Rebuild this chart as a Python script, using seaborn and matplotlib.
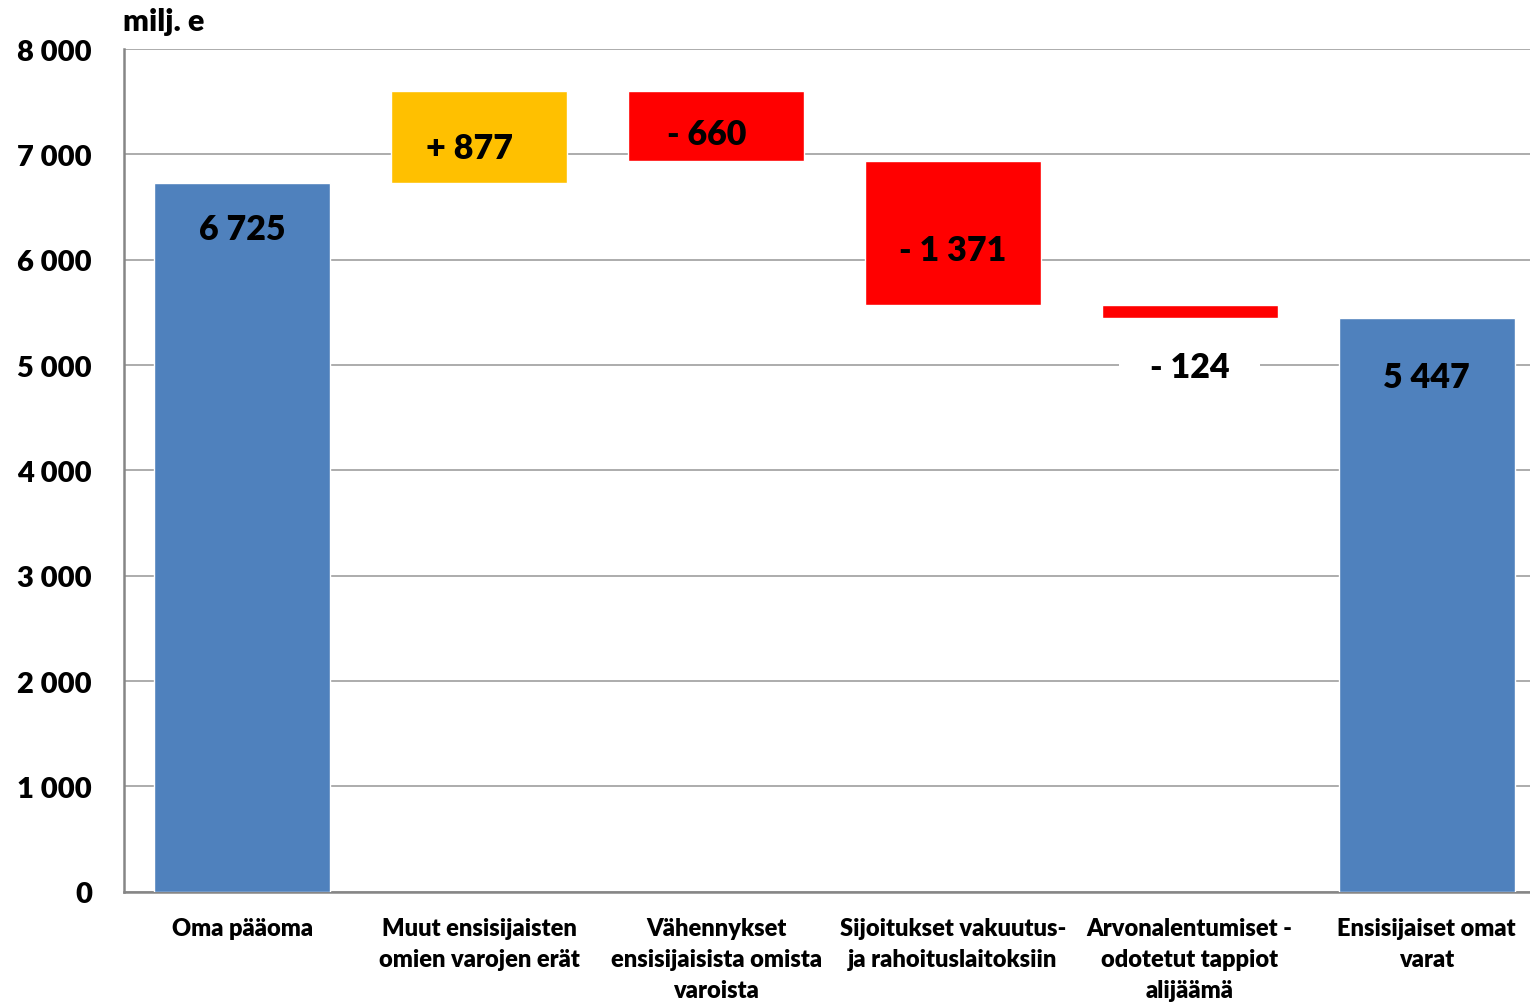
import matplotlib
matplotlib.use('Agg')
import matplotlib.pyplot as plt
import seaborn as sns
import numpy as np
import pandas as pd

# --- DATA ---
categories = [
    "Oma pääoma",
    "Muut ensisijaisten\nomien varojen erät",
    "Vähennykset\nensisijaisista omista\nvaroista",
    "Sijoitukset vakuutus-\nja rahoituslaitoksiin",
    "Arvonalentumiset -\nodotetut tappiot\nalijäämä",
    "Ensisijaiset omat\nvarat",
]
changes = [6725, 877, -660, -1371, -124, 5447]
kinds = ["total", "up", "down", "down", "down", "total"]
value_labels = ["6 725", "+ 877", "- 660", "- 1 371", "- 124", "5 447"]
yticks = [0, 1000, 2000, 3000, 4000, 5000, 6000, 7000, 8000]
ytick_labels = ["0", "1 000", "2 000", "3 000", "4 000", "5 000", "6 000", "7 000", "8 000"]

COLORS = {"total": "#4F81BD", "up": "#FFC000", "down": "#FF0000"}

# waterfall bottoms/heights
bottoms, heights = [], []
running = 0
for v, k in zip(changes, kinds):
    if k == "total":
        bottoms.append(0)
        heights.append(v)
        running = v
    else:
        new = running + v
        bottoms.append(min(running, new))
        heights.append(abs(v))
        running = new

df = pd.DataFrame({"cat": categories, "height": heights, "bottom": bottoms, "kind": kinds})

WEIGHT = 'heavy'

sns.set_style("white")
plt.rcParams['font.family'] = ['Lato', 'DejaVu Sans']
plt.rcParams['font.weight'] = WEIGHT
plt.rcParams['text.color'] = 'black'
plt.rcParams['xtick.color'] = 'black'
plt.rcParams['ytick.color'] = 'black'

fig = plt.figure(figsize=(15.3, 10.03), dpi=100)
# axes a bit wider than the figure: the last category is cut at the right edge
ax = fig.add_axes([124 / 1530, 0.110, 1421 / 1530, 0.840])

sns.barplot(data=df, x="cat", y="height", hue="cat", legend=False,
            palette=[COLORS[k] for k in kinds], width=0.743, saturation=1,
            ax=ax, zorder=3)

# move floating bars up to their bottoms
for patch, b in zip(ax.patches, bottoms):
    patch.set_y(b)

ax.set_ylim(0, 8000)
ax.set_xlim(-0.5, 5.5)
ax.set_yticks(yticks)
ax.set_yticklabels(ytick_labels, fontsize=21, fontweight=WEIGHT)
ax.set_xticks(range(len(categories)))
ax.set_xticklabels(categories, fontsize=17, fontweight=WEIGHT, linespacing=1.5, va='top')
ax.tick_params(axis='x', length=0, pad=18)
ax.tick_params(axis='y', length=0, pad=23)
ax.set_xlabel("")
ax.set_ylabel("")

ax.yaxis.grid(True, color="#A6A6A6", linewidth=1.3, zorder=0)
ax.set_axisbelow(True)
for s in ["top", "right"]:
    ax.spines[s].set_visible(False)
for s in ["left", "bottom"]:
    ax.spines[s].set_color("#868686")
    ax.spines[s].set_linewidth(1.8)

# value label placement (offset from bar top / centre / bottom)
for i, (lab, b, h, k) in enumerate(zip(value_labels, bottoms, heights, kinds)):
    kw = dict(ha='center', va='center', fontsize=24.5, fontweight=WEIGHT, zorder=5)
    if k == "total":
        y = b + h - (433 if i == 0 else 560)
        ax.text(i, y, lab, **kw)
    elif h < 300:
        y = b - 465
        ax.text(i, y, lab, bbox=dict(boxstyle="square,pad=0.9", fc="white", ec="none"), **kw)
    else:
        y = b + h / 2 - 0.12 * h
        ax.text(i - 0.04 if i < 3 else i, y, lab, **kw)

fig.text(123 / 1530, 1 - 22 / 1003, "milj. e", fontsize=22, fontweight=WEIGHT, va='center', ha='left')

plt.savefig("out.png", dpi=100)
plt.close()
